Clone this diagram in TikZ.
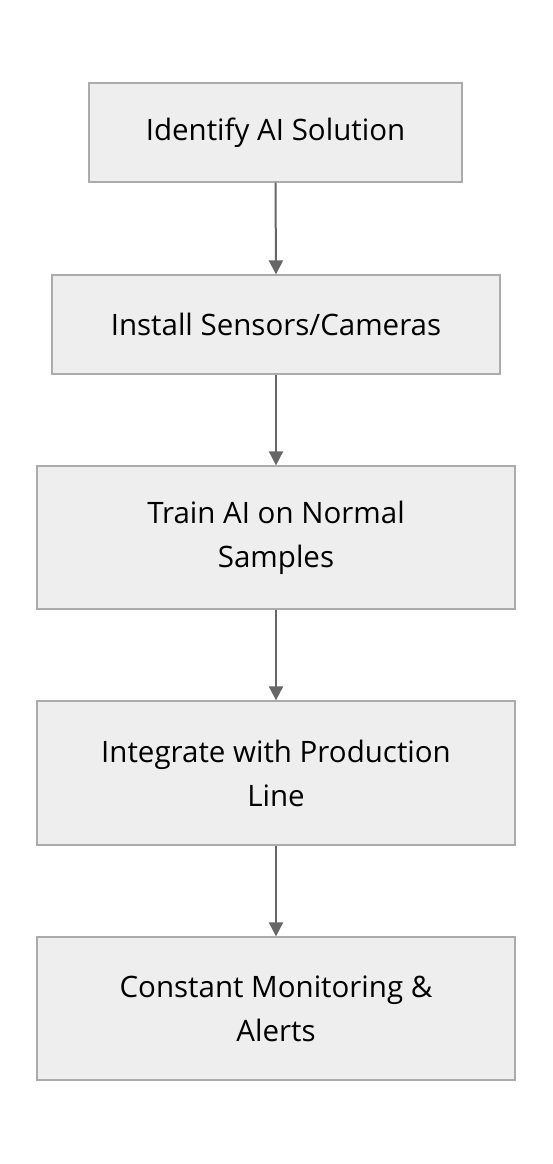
\documentclass[tikz,border=0pt]{standalone}
\usepackage{fontspec}
\setmainfont{Open Sans}
\usetikzlibrary{arrows.meta}
\definecolor{boxfill}{HTML}{EEEEEE}
\definecolor{boxline}{HTML}{ABABAB}
\definecolor{arrowc}{HTML}{666666}
\tikzset{
  stepbox/.style={draw=boxline, line width=1.3pt, fill=boxfill, inner sep=0pt, align=center,
    font=\fontsize{29.5}{44}\selectfont, text=black},
  flow/.style={draw=arrowc, line width=2pt, -{Triangle[length=14pt,width=14pt]}}
}
\begin{document}
\begin{tikzpicture}[x=1pt,y=1pt]
\useasboundingbox (0,0) rectangle (552,-1164);
\node[stepbox, minimum width=373pt, minimum height=99pt] (a) at (275.5,-132.5) {Identify AI Solution};
\node[stepbox, minimum width=448pt, minimum height=99pt] (b) at (276,-324.5) {Install Sensors/Cameras};
\node[stepbox, minimum width=478pt, minimum height=143pt] (c) at (276,-537.5) {Train AI on Normal\\Samples};
\node[stepbox, minimum width=478pt, minimum height=144pt] (d) at (276,-773) {Integrate with Production\\Line};
\node[stepbox, minimum width=478pt, minimum height=143pt] (e) at (276,-1008.5) {Constant Monitoring \&\\Alerts};
\draw[flow] (a.south) -- (b.north);
\draw[flow] (b.south) -- (c.north);
\draw[flow] (c.south) -- (d.north);
\draw[flow] (d.south) -- (e.north);
\end{tikzpicture}
\end{document}
